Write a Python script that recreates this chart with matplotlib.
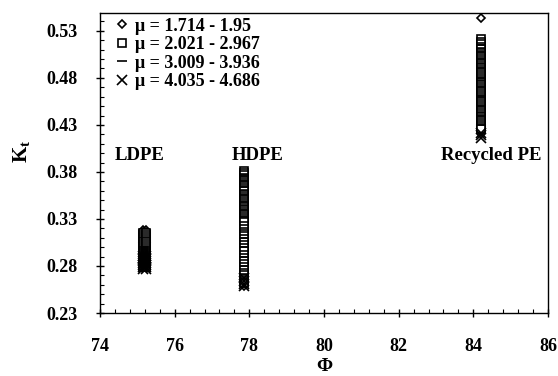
import matplotlib
matplotlib.use("Agg")
import matplotlib.pyplot as plt
from matplotlib.ticker import MultipleLocator, FormatStrFormatter

plt.rcParams['font.family'] = ['Liberation Serif', 'DejaVu Serif']
plt.rcParams['font.weight'] = 'bold'
plt.rcParams['mathtext.fontset'] = 'custom'
plt.rcParams['mathtext.rm'] = 'Liberation Serif:bold'
plt.rcParams['mathtext.bf'] = 'Liberation Serif:bold'

# Phi positions of each material (LDPE spans two close values)
phi_ldpe = [75.15, 75.23]
phi_hdpe = [77.86]
phi_rpe = [84.2]

series_labels = ["μ = 1.714 - 1.95", "μ = 2.021 - 2.967", "μ = 3.009 - 3.936", "μ = 4.035 - 4.686"]

# Kt values per material, per mu range
ldpe_mu1 = [0.318, 0.316, 0.314, 0.312, 0.310, 0.308, 0.306, 0.304, 0.302, 0.300, 0.298]
ldpe_mu2 = [0.315, 0.313, 0.311, 0.309, 0.307, 0.305, 0.303, 0.301, 0.299, 0.297,
            0.295, 0.293, 0.291, 0.289, 0.287, 0.285, 0.283, 0.281, 0.279]
ldpe_mu3 = [0.300, 0.298, 0.296, 0.294, 0.292, 0.290, 0.288, 0.286, 0.284, 0.282, 0.280, 0.278]
ldpe_mu4 = [0.291, 0.289, 0.287, 0.285, 0.283, 0.281, 0.279, 0.277]

hdpe_mu1 = [0.259, 0.262, 0.265, 0.268, 0.272]
hdpe_mu2 = [0.381, 0.379, 0.377, 0.374, 0.372, 0.370, 0.368, 0.366, 0.364, 0.362,
            0.360, 0.357, 0.355, 0.353, 0.351, 0.349, 0.347, 0.345, 0.343, 0.341,
            0.339, 0.337, 0.335, 0.333, 0.331, 0.329, 0.327, 0.322, 0.319, 0.316,
            0.312, 0.309, 0.306, 0.302, 0.299, 0.296, 0.292, 0.289, 0.285, 0.282,
            0.279, 0.276, 0.273, 0.270, 0.267, 0.264, 0.262]
hdpe_mu3 = [0.376, 0.370, 0.364, 0.356, 0.348, 0.340, 0.332, 0.318, 0.310, 0.300,
            0.290, 0.280, 0.270]
hdpe_mu4 = [0.259, 0.261, 0.264, 0.267]

rpe_mu1 = [0.544, 0.422, 0.424, 0.426, 0.428, 0.430]
rpe_mu2 = [0.521, 0.518, 0.516, 0.513, 0.511, 0.508, 0.506, 0.504, 0.502, 0.500,
           0.498, 0.496, 0.494, 0.492, 0.490, 0.488, 0.486, 0.484, 0.482, 0.480,
           0.478, 0.476, 0.474, 0.472, 0.470, 0.468, 0.466, 0.464, 0.462, 0.460,
           0.458, 0.456, 0.454, 0.452, 0.450, 0.448, 0.446, 0.444, 0.442, 0.440,
           0.438, 0.436, 0.434, 0.432, 0.430, 0.428, 0.426]
rpe_mu3 = [0.515, 0.508, 0.500, 0.490, 0.480, 0.470, 0.460, 0.450, 0.440, 0.430]
rpe_mu4 = [0.416, 0.419, 0.421]

groups = [
    (phi_ldpe, [ldpe_mu1, ldpe_mu2, ldpe_mu3, ldpe_mu4]),
    (phi_hdpe, [hdpe_mu1, hdpe_mu2, hdpe_mu3, hdpe_mu4]),
    (phi_rpe, [rpe_mu1, rpe_mu2, rpe_mu3, rpe_mu4]),
]

material_names = ["LDPE", "HDPE", "Recycled PE"]
material_label_x = [75.05, 78.23, 84.47]
material_label_y = 0.393

markers = ['D', 's', '_', 'x']
sizes = [4.5, 6.2, 6.5, 6.5]

fig = plt.figure(figsize=(5.58, 3.76), dpi=100)
ax = fig.add_axes([100 / 558, 1 - 313 / 376, 448 / 558, 300 / 376])

for i in range(4):
    xs, ys = [], []
    for phis, series in groups:
        for phi in phis:
            xs += [phi] * len(series[i])
            ys += series[i]
    ax.plot(xs, ys, linestyle='none', marker=markers[i], markersize=sizes[i],
            markerfacecolor='white' if markers[i] in ('D', 's') else 'black',
            markeredgecolor='black', markeredgewidth=1.2, label=series_labels[i])

for x, name in zip(material_label_x, material_names):
    ax.text(x, material_label_y, name, ha='center', va='baseline',
            fontsize=13.5, fontweight='bold')

ax.set_xlim(74, 86)
ax.set_ylim(0.23, 0.549)
ax.xaxis.set_major_locator(MultipleLocator(2))
ax.xaxis.set_minor_locator(MultipleLocator(0.4))
ax.set_yticks([0.23, 0.28, 0.33, 0.38, 0.43, 0.48, 0.53])
ax.yaxis.set_minor_locator(MultipleLocator(0.01))
ax.yaxis.set_major_formatter(FormatStrFormatter('%.2f'))

ax.tick_params(which='major', direction='inout', length=6, width=1, labelsize=13)
ax.tick_params(axis='x', which='major', pad=15)
ax.tick_params(axis='y', which='major', pad=13)
ax.tick_params(which='minor', direction='in', length=3, width=0.8)
for lab in ax.get_xticklabels() + ax.get_yticklabels():
    lab.set_fontweight('bold')

for sp in ax.spines.values():
    sp.set_linewidth(1.0)

ax.set_xlabel('Φ', fontsize=14, fontweight='bold', labelpad=2)
ax.set_ylabel(r'K$_\mathregular{t}$', fontsize=15, fontweight='bold', labelpad=4)
ax.yaxis.set_label_coords(-0.15, 0.54)

leg = ax.legend(loc='upper left', bbox_to_anchor=(0.035, 0.99), frameon=False,
                handlelength=0.5, handletextpad=0.45, labelspacing=0.08,
                borderaxespad=0.1, borderpad=0.0,
                prop={'weight': 'bold', 'size': 13})

fig.savefig('out.png', dpi=100)
